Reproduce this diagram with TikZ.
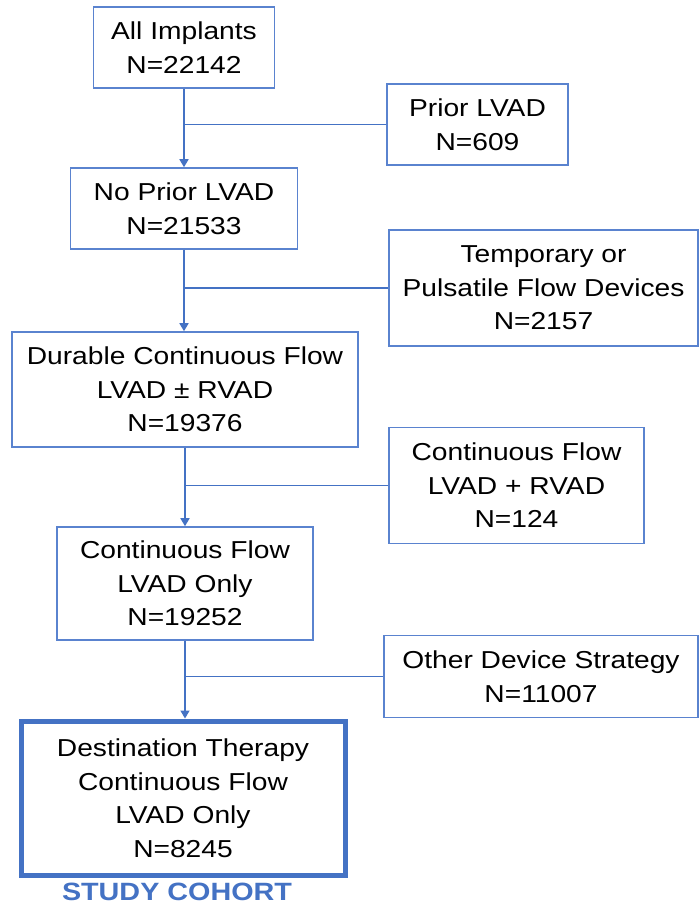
\documentclass[tikz,border=0pt]{standalone}
\usepackage{fontspec}
\setmainfont{Liberation Sans}[FakeStretch=1.15]
\usetikzlibrary{arrows.meta}
\definecolor{flowblue}{HTML}{4472C4}
\definecolor{edgeblue}{HTML}{5A83CF}
\begin{document}
\begin{tikzpicture}[x=1pt,y=-1pt,
  box/.style={draw=edgeblue, line width=1.6pt, align=center, inner sep=0pt,
    font=\fontsize{24.5}{33.5}\selectfont, text=black},
  finalbox/.style={box, draw=flowblue, line width=5pt},
  link/.style={draw=flowblue, line width=1.6pt},
  arr/.style={link, -{Triangle[width=9pt,length=8pt]}}]
\useasboundingbox (0,0) rectangle (699,905);
\fill[white] (0,0) rectangle (699,905);

\node[box, minimum width=181pt, minimum height=81pt] (all) at (184,47.5) {All Implants\\N=22142};
\node[box, minimum width=181pt, minimum height=81pt] (prior) at (477.5,124.5) {Prior LVAD\\N=609};
\node[box, minimum width=227pt, minimum height=81pt] (noprior) at (184,208.5) {No Prior LVAD\\N=21533};
\node[box, minimum width=309pt, minimum height=116pt] (temp) at (543.5,288) {Temporary or\\Pulsatile Flow Devices\\N=2157};
\node[box, minimum width=346pt, minimum height=115pt] (durable) at (185,389.5) {Durable Continuous Flow\\LVAD ± RVAD\\N=19376};
\node[box, minimum width=255pt, minimum height=116pt] (lvrv) at (516.5,485.5) {Continuous Flow\\LVAD + RVAD\\N=124};
\node[box, minimum width=256pt, minimum height=113pt] (lvonly) at (185,583.5) {Continuous Flow\\LVAD Only\\N=19252};
\node[box, minimum width=314pt, minimum height=82pt] (other) at (541,676.5) {Other Device Strategy\\N=11007};
\node[finalbox, minimum width=324pt, minimum height=154pt] (dest) at (183,798) {Destination Therapy\\Continuous Flow\\LVAD Only\\N=8245};
\node[anchor=base, text=flowblue, font=\fontsize{25}{30}\selectfont\bfseries, inner sep=0pt] (cohort) at (177,900.5) {STUDY COHORT};

\draw[arr] (all.south) -- (all.south |- noprior.north);
\draw[arr] (noprior.south) -- (noprior.south |- durable.north);
\draw[arr] (durable.south) -- (durable.south |- lvonly.north);
\draw[arr] (lvonly.south) -- (lvonly.south |- dest.north);

\coordinate (j1) at (all.south |- prior.west);
\coordinate (j2) at (noprior.south |- temp.west);
\coordinate (j3) at (durable.south |- lvrv.west);
\coordinate (j4) at (lvonly.south |- other.west);
\draw[link] (j1) -- (prior.west);
\draw[link] (j2) -- (temp.west);
\draw[link] (j3) -- (lvrv.west);
\draw[link] (j4) -- (other.west);
\end{tikzpicture}
\end{document}
